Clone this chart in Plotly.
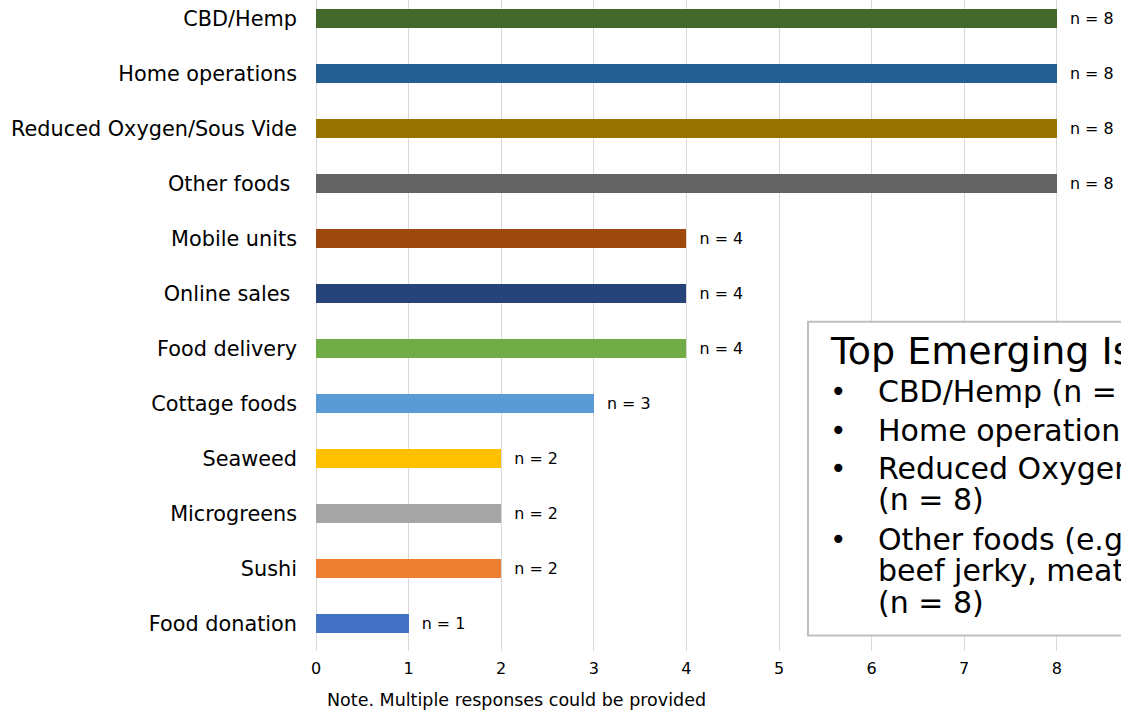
import plotly.graph_objects as go

# Data (top to bottom as shown)
categories = ["CBD/Hemp", "Home operations", "Reduced Oxygen/Sous Vide", "Other foods ",
              "Mobile units", "Online sales ", "Food delivery", "Cottage foods",
              "Seaweed", "Microgreens", "Sushi", "Food donation"]
counts = [8, 8, 8, 8, 4, 4, 4, 3, 2, 2, 2, 1]
colors = ["#43682B", "#255E91", "#997300", "#636363",
          "#9E480E", "#264478", "#70AD47", "#5B9BD5",
          "#FFC000", "#A5A5A5", "#ED7D31", "#4472C4"]
x_ticks = [0, 1, 2, 3, 4, 5, 6, 7, 8]

box_title = "Top Emerging Issues"
box_items = [
    ["CBD/Hemp (n = 8)"],
    ["Home operations (n = 8)"],
    ["Reduced Oxygen/Sous Vide", "(n = 8)"],
    ["Other foods (e.g., kombucha,", "beef jerky, meat sticks)", "(n = 8)"],
]
note = "Note. Multiple responses could be provided"

FONT = "DejaVu Sans"
W, H = 1121, 715
ML, MR, MT, MB = 316, 0, 0, 63.5
PW, PH = W - ML - MR, H - MT - MB

def px(xp):
    return (xp - ML) / PW

def py(yp):
    return (MT + PH - yp) / PH

cats = categories[::-1]
vals = counts[::-1]
cols = colors[::-1]

fig = go.Figure(go.Bar(
    y=cats, x=vals, orientation="h",
    marker=dict(color=cols, line=dict(width=0)),
    width=0.34,
    text=["\u00a0\u00a0n = %d" % v for v in vals],
    textposition="outside",
    textfont=dict(family=FONT, size=17, color="#000000"),
    cliponaxis=False,
    hoverinfo="skip",
))

fig.update_layout(
    width=W, height=H,
    margin=dict(l=ML, r=MR, t=MT, b=MB, pad=0),
    plot_bgcolor="white", paper_bgcolor="white",
    showlegend=False,
    font=dict(family=FONT, color="#000000"),
    bargap=0,
)
fig.update_xaxes(
    range=[0, PW / 92.6], tickvals=x_ticks, showgrid=True, gridcolor="#D9D9D9",
    gridwidth=1, zeroline=True, zerolinecolor="#D9D9D9", zerolinewidth=1,
    showline=False, ticks="", ticklabelstandoff=6,
    tickfont=dict(family=FONT, size=16, color="#000000"),
)
fig.update_yaxes(
    type="category", categoryorder="array", categoryarray=cats,
    range=[-0.5, 11.335], showgrid=False, zeroline=False, showline=False, ticks="",
    ticklabelstandoff=18, tickfont=dict(family=FONT, size=20.8, color="#000000"),
)

# Text box
fig.add_shape(type="rect", xref="paper", yref="paper",
              x0=px(808), x1=px(1500), y0=py(636), y1=py(322),
              line=dict(color="#BFBFBF", width=2), fillcolor="white", layer="above")
fig.add_annotation(xref="paper", yref="paper", x=px(828), y=py(351),
                   xanchor="left", yanchor="middle", showarrow=False,
                   text=box_title, font=dict(family=FONT, size=38, color="#000000"))
line_y = [[392], [431], [469, 500], [540, 571, 603]]
for item, ys in zip(box_items, line_y):
    fig.add_annotation(xref="paper", yref="paper", x=px(828), y=py(ys[0]),
                       xanchor="left", yanchor="middle", showarrow=False,
                       text="•", font=dict(family=FONT, size=28, color="#000000"))
    for t, yy in zip(item, ys):
        fig.add_annotation(xref="paper", yref="paper", x=px(876), y=py(yy),
                           xanchor="left", yanchor="middle", showarrow=False,
                           text=t, font=dict(family=FONT, size=30, color="#000000"))

fig.add_annotation(xref="paper", yref="paper", x=px(325), y=py(701),
                   xanchor="left", yanchor="middle", showarrow=False,
                   text=note, font=dict(family=FONT, size=17.5, color="#000000"))

fig.write_html("out.html", config={"displayModeBar": False, "staticPlot": True},
               post_script="document.body.style.margin='0';")
